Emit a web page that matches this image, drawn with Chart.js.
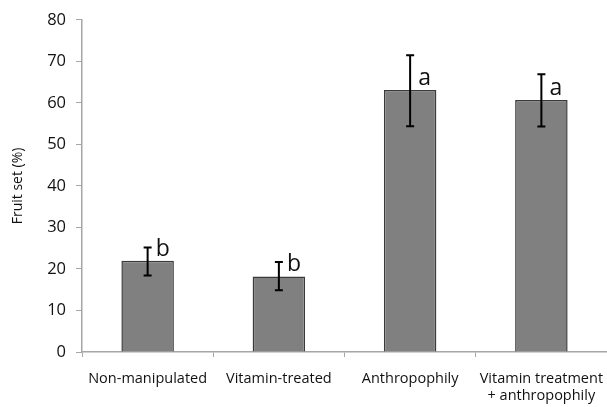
<!DOCTYPE html>
<html>
<head>
<meta charset="utf-8">
<script src="https://cdn.jsdelivr.net/npm/chart.js@4"></script>
<style>
  html, body { margin: 0; padding: 0; background: #fff; }
  #wrap { width: 607px; height: 407px; position: relative; }
</style>
</head>
<body>
<div id="wrap"><canvas id="fruitChart"></canvas></div>
<script>
const categories = ['Non-manipulated', 'Vitamin-treated', 'Anthropophily', ['Vitamin treatment', '+ anthropophily']];
const fruitSet = [22.0, 18.2, 63.1, 60.7];
const errUpper = [25.2, 21.7, 71.5, 66.9];
const errLower = [18.4, 14.9, 54.4, 54.3];
const sigLetters = ['b', 'b', 'a', 'a'];
const yTicks = [0, 10, 20, 30, 40, 50, 60, 70, 80];

const fontFamily = 'Open Sans, Lato, sans-serif';

// error bars + significance letters
const errorBars = {
    id: 'errorBars',
    afterDatasetsDraw(chart) {
        const { ctx, scales: { x, y } } = chart;
        ctx.save();
        ctx.strokeStyle = '#000';
        ctx.lineWidth = 2;
        for (let i = 0; i < fruitSet.length; i++) {
            const cx = x.getPixelForValue(i);
            const top = y.getPixelForValue(errUpper[i]);
            const bot = y.getPixelForValue(errLower[i]);
            ctx.beginPath();
            ctx.moveTo(cx, top); ctx.lineTo(cx, bot);
            ctx.moveTo(cx - 4, top); ctx.lineTo(cx + 4, top);
            ctx.moveTo(cx - 4, bot); ctx.lineTo(cx + 4, bot);
            ctx.stroke();

            ctx.fillStyle = '#111';
            ctx.font = '23px ' + fontFamily;
            ctx.textAlign = 'left';
            ctx.textBaseline = 'alphabetic';
            ctx.fillText(sigLetters[i], cx + 8, y.getPixelForValue(fruitSet[i]) - 5);
        }
        ctx.restore();
    }
};

new Chart(document.getElementById('fruitChart').getContext('2d'), {
    type: 'bar',
    data: {
        labels: categories,
        datasets: [{
            label: 'Fruit set',
            data: fruitSet,
            backgroundColor: '#808080',
            borderColor: '#3a3a3a',
            borderWidth: 1.5,
            barPercentage: 0.4,
            categoryPercentage: 1.0
        }]
    },
    options: {
        responsive: true,
        maintainAspectRatio: false,
        animation: false,
        layout: { padding: { top: 14, right: 0, left: 0, bottom: 0 } },
        plugins: {
            legend: { display: false },
            tooltip: { enabled: false }
        },
        scales: {
            x: {
                grid: {
                    drawOnChartArea: false,
                    offset: true,
                    tickLength: 5,
                    color: '#a6a6a6'
                },
                border: { color: '#a6a6a6', width: 1.5 },
                ticks: {
                    color: '#111',
                    font: { family: fontFamily, size: 14.5 },
                    maxRotation: 0,
                    padding: 13
                },
                afterFit: scale => {
                    scale.height = 55;
                    scale.paddingRight = 0;
                    scale.paddingLeft = 0;
                }
            },
            y: {
                min: 0,
                max: 80,
                afterBuildTicks: scale => { scale.ticks = yTicks.map(v => ({ value: v })); },
                grid: {
                    drawOnChartArea: false,
                    tickLength: 6,
                    color: '#a6a6a6'
                },
                border: { color: '#a6a6a6', width: 1.5 },
                ticks: {
                    color: '#111',
                    font: { family: fontFamily, size: 16.5 },
                    padding: 10
                },
                title: {
                    display: true,
                    text: 'Fruit set (%)',
                    color: '#111',
                    font: { family: fontFamily, size: 14 },
                    padding: { top: 10, bottom: 2 }
                },
                afterFit: scale => { scale.width = 82; }
            }
        }
    },
    plugins: [errorBars]
});
</script>
</body>
</html>
